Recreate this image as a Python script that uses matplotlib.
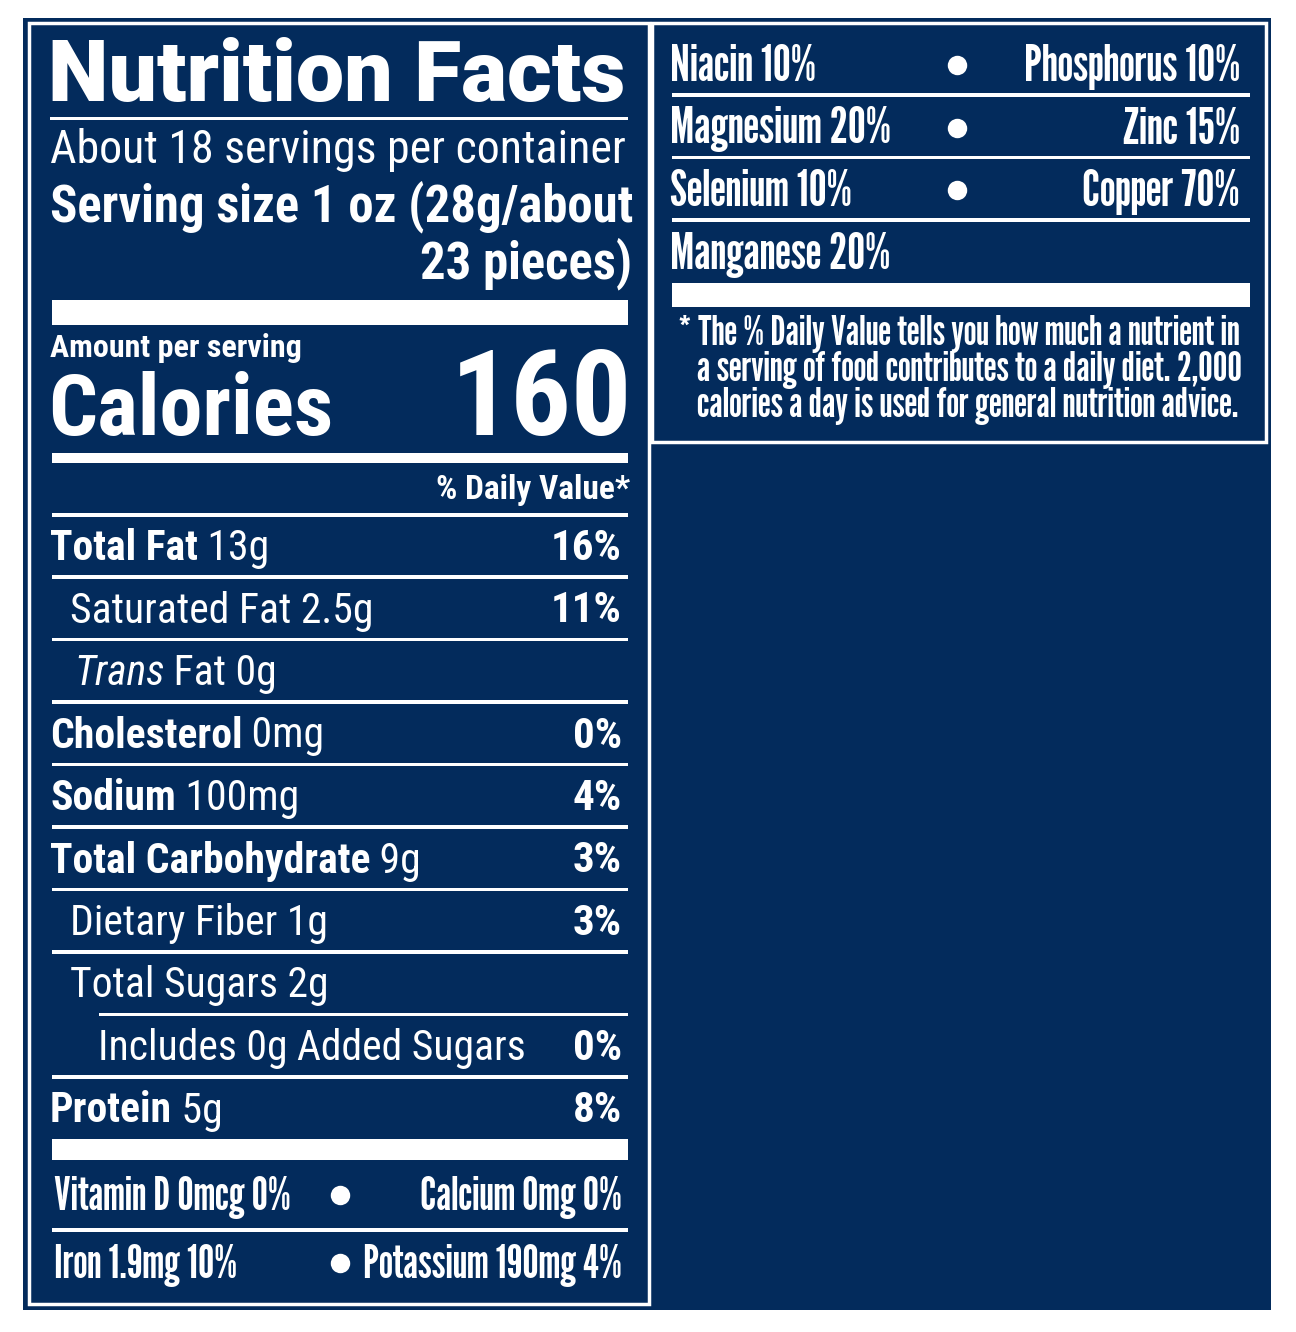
import matplotlib
matplotlib.use('Agg')
import matplotlib.pyplot as plt
from matplotlib.patches import Rectangle

# label content
title = "Nutrition Facts"
servings = "About 18 servings per container"
serving_size = ["Serving size 1 oz (28g/about", "23 pieces)"]
calories = 160

# (first part, rest, % daily value, indent x, style of first part)
rows = [
    ("Total Fat", " 13g", "16%", 50, "bold"),
    ("", "Saturated Fat 2.5g", "11%", 70, "plain"),
    ("Trans", " Fat 0g", "", 74, "italic"),
    ("Cholesterol", " 0mg", "0%", 50, "bold"),
    ("Sodium", " 100mg", "4%", 50, "bold"),
    ("Total Carbohydrate", " 9g", "3%", 50, "bold"),
    ("", "Dietary Fiber 1g", "3%", 70, "plain"),
    ("", "Total Sugars 2g", "", 70, "plain"),
    ("", "Includes 0g Added Sugars", "0%", 98, "plain"),
    ("Protein", " 5g", "8%", 50, "bold"),
]

vit_left = ["Vitamin D 0mcg 0%", "Iron 1.9mg 10%"]
vit_right = ["Calcium 0mg 0%", "Potassium 190mg 4%"]

min_left = ["Niacin 10%", "Magnesium 20%", "Selenium 10%", "Manganese 20%"]
min_right = ["Phosphorus 10%", "Zinc 15%", "Copper 70%", ""]

footnote = ["* The % Daily Value tells you how much a nutrient in",
            "a serving of food contributes to a daily diet. 2,000",
            "calories a day is used for general nutrition advice."]

navy = '#032b5c'
white = 'white'
cond = 'Roboto Condensed'
comp = 'League Gothic'

fig = plt.figure(figsize=(12.96, 13.32), dpi=100)
ax = fig.add_axes([0, 0, 1, 1])
ax.set_xlim(0, 1296)
ax.set_ylim(1332, 0)
ax.axis('off')
renderer = fig.canvas.get_renderer()

def bar(x0, x1, y, h):
    ax.add_patch(Rectangle((x0, y - h / 2), x1 - x0, h, fc=white, ec='none'))

def put(x, y, s, size, weight='normal', ha='left', family=cond, style='normal'):
    return ax.text(x, y, s, fontsize=size, fontweight=weight, ha=ha, va='baseline',
                   color=white, family=family, style=style, fontstretch='condensed')

def right_edge(t):
    return t.get_window_extent(renderer).x1

def fit(s, width, family=comp):
    # font size that makes s about `width` pixels wide
    t = put(0, 0, s, 30, family=family)
    w = t.get_window_extent(renderer).width
    t.remove()
    return 30 * width / w

# background and panel outlines
ax.add_patch(Rectangle((23, 18), 1248, 1292, fc=navy, ec='none'))
ax.add_patch(Rectangle((29, 23), 619.5, 1281, fc='none', ec=white, lw=2.5))
ax.add_patch(Rectangle((651.5, 23), 614, 419, fc='none', ec=white, lw=2.5))

# header
put(48, 101, title, 62, weight=900, family='Roboto')
bar(50, 628, 118, 3)
put(50, 163, servings, 33)
put(50, 221, serving_size[0], 36.5, weight='bold')
put(632, 278, serving_size[1], 36.5, weight='bold', ha='right')
bar(52, 628, 312.5, 25)
put(50, 357, "Amount per serving", 23, weight='bold')
put(48, 435, "Calories", 62, weight='bold')
put(632, 435, str(calories), 86, weight='bold', ha='right')
bar(52, 628, 458, 10)
put(630, 499, "% Daily Value*", 24, weight='bold', ha='right')
bar(52, 628, 515, 3.5)

# nutrient rows
y0, step = 560, 62.5
for i, (b, p, dv, x, st) in enumerate(rows):
    y = y0 + i * step
    xe = x
    if b:
        if st == 'bold':
            t = put(x, y, b, 30, weight='bold')
        else:
            t = put(x, y, b, 30, style='italic')
        xe = right_edge(t)
    put(xe, y, p, 30)
    if dv:
        put(622, y, dv, 31, weight='bold', ha='right')
    if i < len(rows) - 1:
        lx = 99 if rows[i + 1][3] > 90 else 52
        bar(lx, 628, y + 17, 3.5)

bar(52, 628, 1149.5, 21)

# vitamins / minerals at bottom of left panel
vs = fit(vit_right[1], 259)
for i in range(2):
    y = 1210 + i * 68
    put(54, y, vit_left[i], vs, family=comp)
    put(622, y, vit_right[i], vs, family=comp, ha='right')
    ax.plot(340, y - 15, 'o', color=white, ms=14, mec='none')
bar(52, 628, 1230, 3.5)

# right panel
ms_ = fit(min_right[0], 216)
for i in range(4):
    y = 81 + i * 62.5
    put(670, y, min_left[i], ms_, family=comp)
    if min_right[i]:
        put(1240, y, min_right[i], ms_, family=comp, ha='right')
        ax.plot(957, y - 16, 'o', color=white, ms=14, mec='none')
    if i < 3:
        bar(672, 1250, y + 14, 3.5)
bar(672, 1250, 295, 24)

fs = fit(footnote[0], 562)
fx = [678, 697, 697]
for i, line in enumerate(footnote):
    put(fx[i], 345 + i * 36, line, fs, family=comp)

fig.savefig('out.png', facecolor='white')
